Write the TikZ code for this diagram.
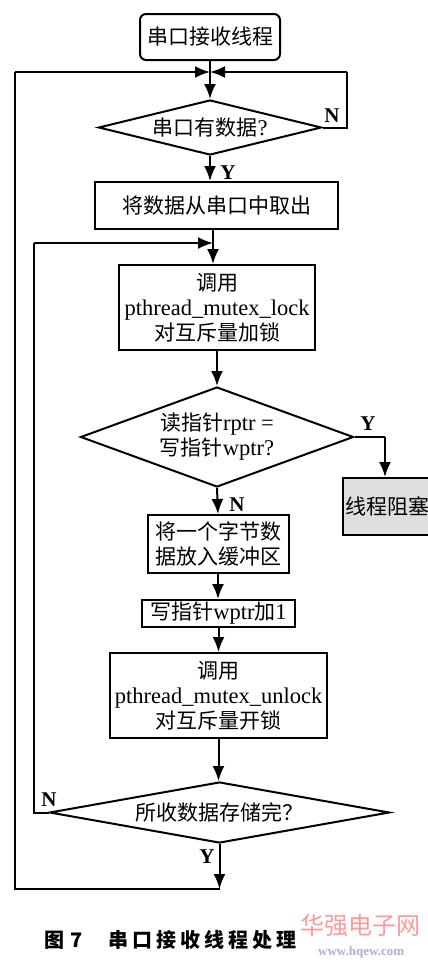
\documentclass[tikz,border=0pt]{standalone}
\usepackage{fontspec}
\setmainfont{Liberation Serif}
\newfontfamily\cjk{Noto Sans CJK SC}
\usetikzlibrary{shapes.geometric,arrows.meta}
\begin{document}
\begin{tikzpicture}[x=1pt,y=-1pt,
  every node/.style={font=\fontsize{21}{25}\selectfont, inner sep=0pt, align=center},
  lw/.style={line width=2pt},
  box/.style={draw, line width=2pt, rectangle},
  dia/.style={draw, line width=2pt, diamond},
  arr/.style={line width=2pt, -{Latex[length=15pt,width=12pt]}},
  lab/.style={font=\fontsize{21}{22}\selectfont\bfseries},
  lat/.style={font=\fontsize{22.5}{25}\selectfont}
]
\useasboundingbox (0,0) rectangle (428,961);
\fill[white] (0,0) rectangle (428,961);

% nodes
\node[box, rounded corners=6pt, minimum width=140pt, minimum height=46pt] (start) at (210,37) {\cjk 串口接收线程};
\coordinate (J1) at (210,72);
\node[dia, aspect=4.05, minimum width=223pt, minimum height=55pt] (d1) at (210,127.5) {{\cjk 串口有数据}{\fontsize{22.5}{25}\selectfont ?}};
\node[box, minimum width=243pt, minimum height=47pt] (b2) at (216.5,205.5) {\cjk 将数据从串口中取出};
\coordinate (J2) at (213,243);
\node[box, minimum width=196pt, minimum height=85pt] (b3) at (217,307.5) {{\cjk 调用}\\{\fontsize{22.5}{25}\selectfont pthread\_mutex\_lock}\\{\cjk 对互斥量加锁}};
\node[dia, aspect=2.73, minimum width=273pt, minimum height=100pt] (d2) at (217,437) {{\cjk 读指针}{\fontsize{22.5}{25}\selectfont rptr =}\\{\cjk 写指针}{\fontsize{22.5}{25}\selectfont wptr?}};
\node[box, fill=black!13, minimum width=97pt, minimum height=57pt, text width=90pt, align=left] (b7) at (391.5,506.5) {\hspace{-1pt}\cjk 线程阻塞};
\node[box, minimum width=141pt, minimum height=58pt] (b4) at (218,544) {\cjk 将一个字节数\\\cjk 据放入缓冲区};
\node[box, minimum width=153pt, minimum height=27pt] (b5) at (218.5,613.5) {{\cjk 写指针}{\fontsize{22.5}{25}\selectfont wptr}{\cjk 加}{\fontsize{22.5}{25}\selectfont 1}};
\node[box, minimum width=217pt, minimum height=85pt] (b6) at (218.5,695.5) {{\cjk 调用}\\{\fontsize{22.5}{25}\selectfont pthread\_mutex\_unlock}\\{\cjk 对互斥量开锁}};
\node[dia, aspect=5.57, minimum width=340pt, minimum height=61pt] (d3) at (219.5,812.5) {\cjk 所收数据存储完？};
\coordinate (B) at (219.5,889);
\coordinate (BL) at (15,889);
\coordinate (TL) at (15,72);
\coordinate (R1) at (347,127.5);
\coordinate (R1t) at (347,72);
\coordinate (L2) at (34,812.5);
\coordinate (L2t) at (34,243);
\coordinate (R2) at (385,437);

% connectors
\draw[arr] (start.south) -- (d1.north);
\draw[lw] (d1.east) -- (R1) -- (R1t);
\draw[arr] (R1t) -- (J1);
\draw[arr] (d1.south) -- (d1.south |- b2.north);
\draw[lw] (J2 |- b2.south) -- (J2);
\draw[arr] (J2) -- (J2 |- b3.north);
\draw[arr] (b3.south) -- (d2.north);
\draw[lw] (d2.east) -- (R2);
\draw[arr] (R2) -- (R2 |- b7.north);
\draw[arr] (d2.south) -- (b4.north);
\draw[arr] (b4.south) -- (b4.south |- b5.north);
\draw[arr] (b5.south) -- (b5.south |- b6.north);
\draw[arr] (b6.south) -- (b6.south |- d3.north);
\draw[lw] (d3.west) -- (L2) -- (L2t);
\draw[arr] (L2t) -- (J2);
\draw[arr] (d3.south) -- (B);
\draw[lw] (B) -- (BL) -- (TL);
\draw[arr] (TL) -- (J1);

% branch labels
\node[lab] at (332,116) {N};
\node[lab] at (228,173) {Y};
\node[lab] at (368,424) {Y};
\node[lab] at (237,505) {N};
\node[lab] at (49,800) {N};
\node[lab] at (207,857) {Y};

% caption
\node[anchor=west, font=\fontsize{20}{22}\selectfont] (cap) at (44,940) {\cjk\bfseries 图\hspace{6pt}7\hspace{26pt}串\hspace{4pt}口\hspace{4pt}接\hspace{4pt}收\hspace{4pt}线\hspace{4pt}程\hspace{4pt}处\hspace{4pt}理};

% watermark
\node[anchor=west, text=red!40!white, font=\fontsize{24}{26}\selectfont] (wm) at (300,925) {\cjk 华强电子网};
\node[anchor=west, text=blue!25!gray!50, font=\fontsize{13}{15}\selectfont\bfseries] (wm2) at (318,952) {www.hqew.com};
\end{tikzpicture}
\end{document}
